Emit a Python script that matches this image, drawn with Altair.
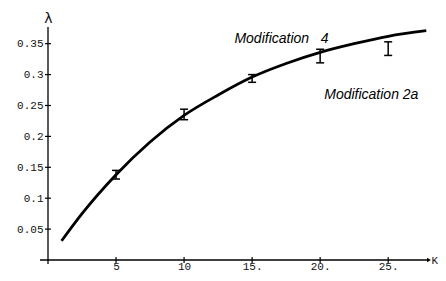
import altair as alt
import pandas as pd

# curve
curve_k = [1, 2.5, 5, 7.5, 10, 12.5, 15, 17.5, 20, 22.5, 25, 27.8]
curve_lambda = [0.031, 0.075, 0.138, 0.191, 0.234, 0.267, 0.296, 0.318, 0.336, 0.350, 0.362, 0.371]

# error bars
err_k = [5, 10, 15, 20, 25]
err_low = [0.131, 0.227, 0.2875, 0.319, 0.331]
err_high = [0.145, 0.244, 0.300, 0.341, 0.353]

# annotations
ann_text = ["Modification\u00a0\u00a0\u00a04", "Modification 2a"]
ann_k = [13.7, 20.3]
ann_lambda = [0.358, 0.267]

x_ticks = [5, 10, 15, 20, 25]
y_ticks = [0.05, 0.1, 0.15, 0.2, 0.25, 0.3, 0.35]

XMAX = 28.0
YMAX = 0.377
W, H = 381, 233

curve = pd.DataFrame({"k": curve_k, "lam": curve_lambda})
err = pd.DataFrame({"k": err_k, "lo": err_low, "hi": err_high})
ann = pd.DataFrame({"t": ann_text, "k": ann_k, "lam": ann_lambda})
xt = pd.DataFrame({"k": x_ticks})
yt = pd.DataFrame({"lam": y_ticks})

xs = alt.Scale(domain=[0, XMAX], nice=False, zero=False)
ys = alt.Scale(domain=[0, YMAX], nice=False, zero=False)

MONO = "Liberation Mono"

xaxis = alt.Axis(values=x_ticks, domain=False, ticks=False, grid=False,
                 labelFont=MONO, labelFontSize=11, labelColor="#111",
                 labelPadding=0, labelOverlap=False,
                 labelExpr="datum.value >= 15 ? datum.label + '.' : datum.label",
                 title="K", titleFont=MONO, titleFontSize=11, titleFontWeight="normal",
                 titleAngle=0, titleX=W + 2, titleY=0, titleAlign="left",
                 titleBaseline="middle", titleColor="#111")
yaxis = alt.Axis(values=y_ticks, domain=False, ticks=False, grid=False, format=".2~f",
                 labelFont=MONO, labelFontSize=11, labelColor="#111",
                 labelPadding=5, labelOverlap=False,
                 title="λ", titleFont="DejaVu Sans", titleFontSize=14, titleFontWeight="normal",
                 titleAngle=0, titleX=0, titleY=-9, titleAlign="center",
                 titleBaseline="middle", titleColor="#111")


def X(f):
    return alt.X(f, scale=xs, axis=xaxis)


def Y(f):
    return alt.Y(f, scale=ys, axis=yaxis)


line = alt.Chart(curve).mark_line(color="black", strokeWidth=2.8, interpolate="monotone").encode(
    x=X("k:Q"), y=Y("lam:Q"))

bars = alt.Chart(err).mark_rule(color="black", strokeWidth=1.5).encode(
    x=X("k:Q"), y=Y("lo:Q"), y2="hi:Q")
caps_lo = alt.Chart(err).mark_rule(color="black", strokeWidth=1.5, xOffset=-4, x2Offset=4).encode(
    x=X("k:Q"), x2="k:Q", y=Y("lo:Q"))
caps_hi = alt.Chart(err).mark_rule(color="black", strokeWidth=1.5, xOffset=-4, x2Offset=4).encode(
    x=X("k:Q"), x2="k:Q", y=Y("hi:Q"))

# axis lines
yline = alt.Chart(pd.DataFrame({"k": [0]})).mark_rule(color="black", strokeWidth=1.3, y2Offset=4).encode(
    x=X("k:Q"), y=alt.value(0), y2=alt.value(H))
xline = alt.Chart(pd.DataFrame({"lam": [0]})).mark_rule(color="black", strokeWidth=1.3, xOffset=-8).encode(
    y=Y("lam:Q"), x=alt.value(0), x2=alt.value(W))
arrow = alt.Chart(pd.DataFrame({"k": [XMAX], "lam": [0]})).mark_point(
    shape="triangle-right", filled=True, color="black", size=20, opacity=1).encode(
    x=X("k:Q"), y=Y("lam:Q"))

yticks = alt.Chart(yt).mark_rule(color="black", strokeWidth=1.2).encode(
    y=Y("lam:Q"), x=alt.value(-3), x2=alt.value(3))
xticks = alt.Chart(xt).mark_rule(color="black", strokeWidth=1.2).encode(
    x=X("k:Q"), y=alt.value(H - 3), y2=alt.value(H + 3))

text = alt.Chart(ann).mark_text(font="Liberation Sans", fontStyle="italic", fontSize=14,
                                align="left", baseline="middle", color="black").encode(
    x=X("k:Q"), y=Y("lam:Q"), text="t:N")

chart = alt.layer(line, bars, caps_lo, caps_hi, yline, xline, arrow, yticks, xticks, text).properties(
    width=W, height=H,
    autosize=alt.AutoSizeParams(type="none"),
    padding={"left": 40, "top": 19, "right": 9, "bottom": 13},
    background="white",
).configure_view(stroke=None)

chart.save("out.html", embed_options={"renderer": "svg", "actions": False})
